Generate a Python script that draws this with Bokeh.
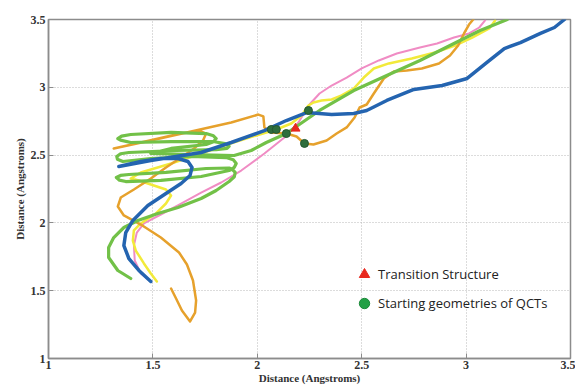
from bokeh.plotting import figure
from bokeh.models import FixedTicker, Legend, LegendItem
from bokeh.embed import file_html
from bokeh.resources import INLINE

# ---- axis ticks ----
x_ticks = [1, 1.5, 2, 2.5, 3, 3.5]
x_tick_labels = ["1", "1.5", "2", "2.5", "3", "3.5"]
y_ticks = [1, 1.5, 2, 2.5, 3, 3.5]
y_tick_labels = ["1", "1.5", "2", "2.5", "3", "3.5"]

# ---- trajectories (Angstrom, Angstrom) ----
pink_x = [1.49, 1.442, 1.413, 1.409, 1.423, 1.457, 1.538, 1.635, 1.731, 1.827, 1.923, 2.034, 2.13, 2.197,
          2.25, 2.298, 2.356, 2.428, 2.5, 2.582, 2.668, 2.779, 2.861, 2.942, 3.014, 3.063, 3.091]
pink_y = [1.568, 1.627, 1.723, 1.833, 1.929, 1.996, 2.062, 2.143, 2.224, 2.298, 2.386, 2.512, 2.63, 2.74,
          2.873, 2.954, 3.013, 3.072, 3.139, 3.198, 3.249, 3.294, 3.323, 3.367, 3.397, 3.441, 3.493]

yellow_x = [1.519, 1.49, 1.457, 1.418, 1.404, 1.409, 1.442, 1.514, 1.5625, 1.587, 1.5625, 1.49, 1.433, 1.394,
            1.442, 1.587, 1.731, 1.875, 1.995, 2.091, 2.163, 2.212, 2.245, 2.269, 2.308, 2.356, 2.404, 2.462,
            2.51, 2.558, 2.63, 2.74, 2.851, 2.947, 3.029, 3.111, 3.139]
yellow_y = [1.568, 1.627, 1.701, 1.796, 1.87, 1.944, 1.996, 2.069, 2.143, 2.202, 2.246, 2.283, 2.313, 2.327,
            2.372, 2.438, 2.512, 2.586, 2.645, 2.689, 2.733, 2.792, 2.866, 2.888, 2.903, 2.91, 2.94, 2.991,
            3.072, 3.139, 3.176, 3.212, 3.257, 3.308, 3.367, 3.434, 3.493]

orange_x = [1.587, 1.611, 1.639, 1.678, 1.702, 1.707, 1.692, 1.663, 1.625, 1.538, 1.442, 1.361, 1.332, 1.346,
            1.409, 1.49, 1.5625, 1.635, 1.697, 1.74, 1.755, 1.721, 1.611, 1.442, 1.3125, 1.49, 1.683, 1.875,
            2.005, 2.029, 2.034, 2.067, 2.139, 2.188, 2.226, 2.269, 2.332, 2.38, 2.428, 2.466, 2.49, 2.524,
            2.558, 2.606, 2.654, 2.716, 2.788, 2.87, 2.923, 2.962, 2.99, 3.014, 3.034]
orange_y = [1.516, 1.442, 1.354, 1.273, 1.339, 1.428, 1.575, 1.693, 1.782, 1.892, 1.988, 2.055, 2.121, 2.187,
            2.246, 2.327, 2.409, 2.482, 2.549, 2.608, 2.659, 2.681, 2.652, 2.593, 2.549, 2.608, 2.674, 2.74,
            2.799, 2.785, 2.704, 2.667, 2.659, 2.637, 2.586, 2.578, 2.608, 2.659, 2.704, 2.777, 2.851, 2.873,
            2.954, 3.065, 3.117, 3.124, 3.139, 3.176, 3.235, 3.308, 3.397, 3.463, 3.5]

green_x = [1.394, 1.332, 1.288, 1.288, 1.3125, 1.361, 1.428, 1.524, 1.62, 1.731, 1.803, 1.865, 1.89, 1.894,
           1.88, 1.865, 1.755, 1.5625, 1.385, 1.345, 1.325, 1.34, 1.37, 1.538, 1.731, 1.865, 1.89, 1.899,
           1.885, 1.851, 1.683, 1.49, 1.356, 1.33, 1.327, 1.345, 1.385, 1.611, 1.803, 1.855, 1.865, 1.845,
           1.788, 1.587, 1.394, 1.345, 1.332, 1.35, 1.394, 1.587, 1.755, 1.79, 1.803, 1.79, 1.755, 1.587,
           1.49, 1.683, 1.889, 1.971, 2.043, 2.139, 2.298, 2.462, 2.62, 2.779, 2.942, 3.067, 3.197]
green_y = [1.59, 1.649, 1.745, 1.819, 1.892, 1.966, 2.018, 2.069, 2.114, 2.18, 2.239, 2.305, 2.34, 2.372,
           2.395, 2.405, 2.401, 2.372, 2.357, 2.35, 2.335, 2.315, 2.305, 2.313, 2.342, 2.386, 2.41, 2.438,
           2.465, 2.482, 2.49, 2.475, 2.453, 2.47, 2.49, 2.51, 2.519, 2.534, 2.541, 2.55, 2.565, 2.585,
           2.6, 2.6, 2.593, 2.61, 2.622, 2.64, 2.652, 2.667, 2.659, 2.642, 2.622, 2.598, 2.578, 2.549,
           2.512, 2.504, 2.497, 2.534, 2.593, 2.659, 2.829, 2.976, 3.087, 3.198, 3.323, 3.419, 3.5]

blue_x = [1.49, 1.433, 1.385, 1.361, 1.37, 1.404, 1.476, 1.5625, 1.635, 1.678, 1.6875, 1.668, 1.62, 1.538,
          1.442, 1.337, 1.49, 1.731, 1.875, 2.034, 2.139, 2.236, 2.356, 2.462, 2.524, 2.62, 2.75, 2.885,
          3.005, 3.10, 3.183, 3.26, 3.356, 3.423, 3.471]
blue_y = [1.568, 1.649, 1.737, 1.833, 1.929, 2.018, 2.128, 2.217, 2.291, 2.35, 2.409, 2.453, 2.475, 2.475,
          2.453, 2.416, 2.46, 2.519, 2.593, 2.681, 2.755, 2.814, 2.80, 2.807, 2.829, 2.903, 2.984, 3.013,
          3.065, 3.183, 3.286, 3.33, 3.397, 3.441, 3.5]

# ---- special points ----
ts_x = [2.183]
ts_y = [2.696]
qct_x = [2.067, 2.091, 2.139, 2.226, 2.245]
qct_y = [2.689, 2.689, 2.659, 2.586, 2.829]

legend_labels = ["Transition Structure", "Starting geometries of QCTs"]

p = figure(width=575, height=387, x_range=(1, 3.5), y_range=(1, 3.5),
           output_backend="svg", toolbar_location=None,
           min_border_left=48, min_border_right=5, min_border_top=19, min_border_bottom=29,
           background_fill_color="white", border_fill_color="white")

p.outline_line_color = "#8c8c8c"
p.outline_line_width = 1.5

for ax, ticks, labels in ((p.xaxis[0], x_ticks, x_tick_labels), (p.yaxis[0], y_ticks, y_tick_labels)):
    ax.ticker = FixedTicker(ticks=ticks)
    ax.major_label_overrides = {t: l for t, l in zip(ticks, labels)}
    ax.major_tick_in = 5
    ax.major_tick_out = 0
    ax.minor_tick_line_color = None
    ax.axis_line_color = "#8c8c8c"
    ax.axis_line_width = 1.5
    ax.major_tick_line_color = "#8c8c8c"
    ax.major_label_text_font = "Liberation Serif"
    ax.major_label_text_font_style = "bold"
    ax.major_label_text_font_size = "12px"
    ax.major_label_text_color = "#333333"
    ax.major_label_standoff = 3
    ax.axis_label = "Distance (Angstroms)"
    ax.axis_label_text_font = "Liberation Serif"
    ax.axis_label_text_font_style = "bold"
    ax.axis_label_text_font_size = "11px"
    ax.axis_label_text_color = "#333333"
    ax.axis_label_standoff = 2

p.xaxis[0].major_label_standoff = 2
p.xaxis[0].axis_label_standoff = 0

for g in (p.xgrid[0], p.ygrid[0]):
    g.grid_line_color = "#b8b8b8"
    g.grid_line_dash = "1 2"
    g.grid_line_width = 1

common = dict(line_join="round", line_cap="round")
p.line(pink_x, pink_y, line_color="#F08CC4", line_width=2, **common)
p.line(yellow_x, yellow_y, line_color="#F2EA3A", line_width=2.5, **common)
p.line(orange_x, orange_y, line_color="#E6A12C", line_width=2.5, **common)
p.line(green_x, green_y, line_color="#72C148", line_width=3.2, **common)
p.line(blue_x, blue_y, line_color="#2464B0", line_width=3.5, **common)

p.scatter(qct_x, qct_y, marker="circle", size=8, fill_color="#2E6E3C", line_color="#24582F")
p.scatter(ts_x, ts_y, marker="triangle", size=9, fill_color="#E8281E", line_color="#E8281E")

nan = float("nan")
leg_ts = p.scatter([nan], [nan], marker="triangle", size=10, fill_color="#E8281E", line_color="#E8281E")
leg_qct = p.scatter([nan], [nan], marker="circle", size=10, fill_color="#23A046", line_color="#1C8A3A")

legend = Legend(items=[LegendItem(label=legend_labels[0], renderers=[leg_ts], index=0),
                       LegendItem(label=legend_labels[1], renderers=[leg_qct], index=0)],
                location=(303, 42), padding=0, margin=0, spacing=3,
                glyph_width=26, glyph_height=26, label_standoff=1,
                border_line_color=None, background_fill_alpha=0,
                label_text_font="Open Sans", label_text_font_size="13px",
                label_text_color="#222222")
p.add_layout(legend)

open("out.html", "w").write(file_html(p, INLINE))
